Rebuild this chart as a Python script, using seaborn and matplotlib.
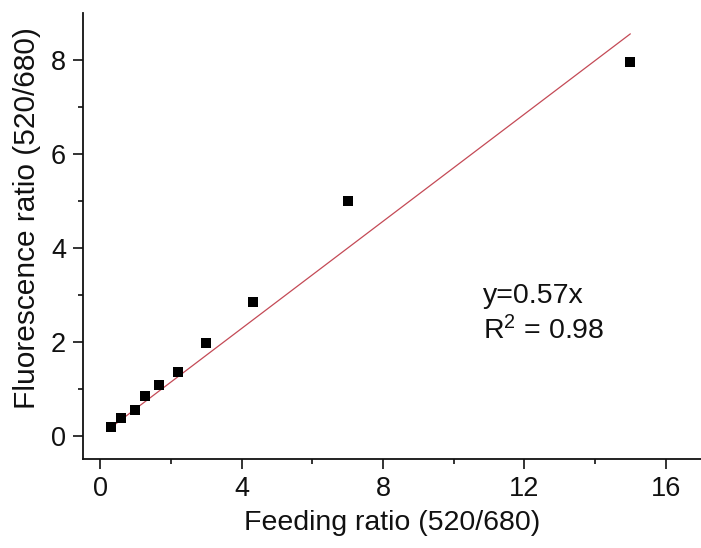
import numpy as np
import pandas as pd
import matplotlib
matplotlib.use("Agg")
import matplotlib.pyplot as plt
import seaborn as sns

# data
feeding_ratio = [0.31, 0.59, 0.98, 1.27, 1.66, 2.19, 2.99, 4.31, 7.0, 15.0]
fluorescence_ratio = [0.19, 0.38, 0.55, 0.84, 1.08, 1.36, 1.96, 2.84, 5.0, 7.95]
fit_slope = 0.57
fit_r2 = 0.98
x_ticks = [0, 4, 8, 12, 16]
y_ticks = [0, 2, 4, 6, 8]

sns.set_style("ticks")
plt.rcParams['font.family'] = ['Liberation Sans', 'DejaVu Sans']
plt.rcParams['mathtext.fontset'] = 'custom'
plt.rcParams['mathtext.rm'] = 'Liberation Sans'
plt.rcParams['mathtext.it'] = 'Liberation Sans:italic'

df = pd.DataFrame({'feeding': feeding_ratio, 'fluor': fluorescence_ratio})
fit_x = np.array([min(feeding_ratio), max(feeding_ratio)])
fit_df = pd.DataFrame({'x': fit_x, 'y': fit_slope * fit_x})

fig = plt.figure(figsize=(7.01, 5.48), dpi=100)
ax = fig.add_axes([0.118, 0.1624, 0.882, 0.8144])

# linear fit through origin
sns.lineplot(data=fit_df, x='x', y='y', ax=ax, color='#c44a56', linewidth=0.9)
sns.scatterplot(data=df, x='feeding', y='fluor', ax=ax, marker='s', s=55,
                color='black', edgecolor='black', linewidth=0, zorder=3)

ax.set_xlim(-0.5, 17)
ax.set_ylim(-0.5, 9)
ax.set_xticks(x_ticks)
ax.set_yticks(y_ticks)
ax.set_xticks([2, 6, 10, 14], minor=True)
ax.set_yticks([1, 3, 5, 7], minor=True)
ax.tick_params(axis='both', which='major', length=7, width=1.2, labelsize=19.5,
               pad=5, color='#111111', labelcolor='#111111')
ax.tick_params(axis='both', which='minor', length=3.5, width=1.2, color='#111111')

for side in ['top', 'right']:
    ax.spines[side].set_visible(False)
for side in ['left', 'bottom']:
    ax.spines[side].set_linewidth(1.3)
    ax.spines[side].set_color('#111111')

ax.set_xlabel('Feeding ratio (520/680)', fontsize=20.5, color='#111111')
ax.set_ylabel('Fluorescence ratio (520/680)', fontsize=21.5, color='#111111')
ax.xaxis.set_label_coords(0.5, -0.115)
ax.yaxis.set_label_coords(-0.068, 0.54)

ax.text(10.84, 2.98, 'y=0.57x', fontsize=20.5, va='center', ha='left', color='#111111')
ax.text(10.84, 2.24, r'R$^{\mathregular{2}}$ = ' + f'{fit_r2:.2f}', fontsize=20.5,
        va='center', ha='left', color='#111111')

fig.savefig('out.png', dpi=100)
